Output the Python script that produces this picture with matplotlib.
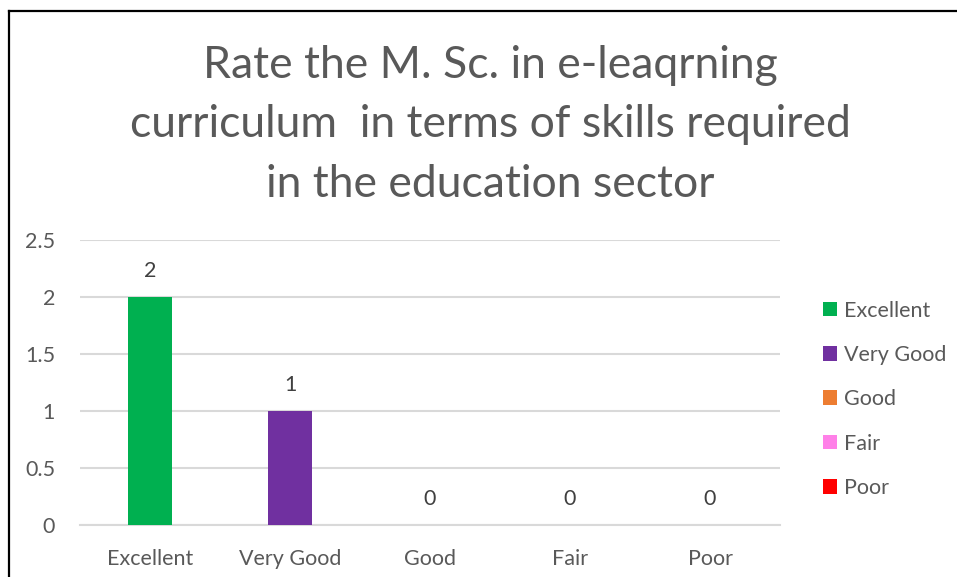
import matplotlib.pyplot as plt
from matplotlib.lines import Line2D
from matplotlib.patches import Patch

categories = ["Excellent", "Very Good", "Good", "Fair", "Poor"]
counts = [2, 1, 0, 0, 0]
bar_colors = ["#00B050", "#7030A0", "#ED7D31", "#FF80E8", "#FF0000"]
y_ticks = [0, 0.5, 1, 1.5, 2, 2.5]
y_tick_labels = ["0", "0.5", "1", "1.5", "2", "2.5"]
title = "Rate the M. Sc. in e-leaqrning\ncurriculum  in terms of skills required\nin the education sector"

plt.rcParams['font.family'] = ['Lato', 'DejaVu Sans']
W, H = 957, 577
fig = plt.figure(figsize=(W / 100, H / 100), dpi=100)
ax = fig.add_axes([80 / W, (H - 525) / H, 700 / W, 285 / H])

xs = list(range(len(categories)))
ax.bar(xs, counts, width=0.314, color=bar_colors, zorder=3)
for x, v in zip(xs, counts):
    ax.annotate(str(v), (x, v), xytext=(0, 19), textcoords="offset points",
                ha="center", va="center", fontsize=15.5, color="#404040")

ax.set_xlim(-0.5, len(categories) - 0.5)
ax.set_ylim(0, 2.5)
ax.set_yticks(y_ticks)
ax.set_yticklabels(y_tick_labels)
ax.set_xticks(xs)
ax.set_xticklabels(categories)
ax.tick_params(axis="both", length=0, labelsize=15.5, colors="#595959")
ax.tick_params(axis="x", pad=17)
ax.tick_params(axis="y", pad=18)
ax.grid(axis="y", color="#D9D9D9", linewidth=1.5, zorder=0)
for side in ["top", "right", "left"]:
    ax.spines[side].set_visible(False)
ax.spines["bottom"].set_color("#D9D9D9")
ax.spines["bottom"].set_linewidth(1.5)

fig.text(490 / W, 1 - 125 / H, title, ha="center", va="center",
         fontsize=32, color="#595959", linespacing=1.55)

handles = [Patch(facecolor=c, edgecolor="none") for c in bar_colors]
fig.legend(handles, categories, loc="upper left",
           bbox_to_anchor=(814 / W, 1 - 292 / H), frameon=False,
           fontsize=15.5, labelcolor="#595959", handlelength=0.68,
           handleheight=0.68, handletextpad=0.3, labelspacing=1.13,
           borderaxespad=0)

fig.add_artist(Line2D([9 / W, 1], [1 - 11 / H, 1 - 11 / H], color="black",
                      linewidth=1.6, transform=fig.transFigure))
fig.add_artist(Line2D([9 / W, 9 / W], [0, 1 - 11 / H], color="black",
                      linewidth=1.6, transform=fig.transFigure))

fig.savefig("out.png", dpi=100, facecolor="white")
